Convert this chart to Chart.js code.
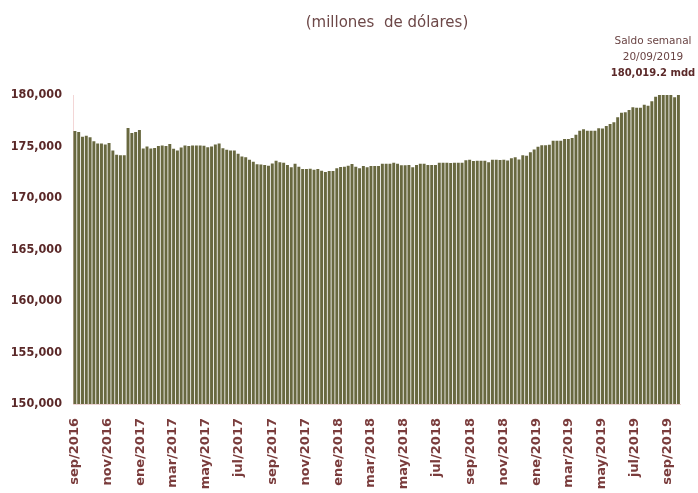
<!DOCTYPE html>
<html>
<head>
<meta charset="utf-8">
<script src="https://cdn.jsdelivr.net/npm/chart.js@4/dist/chart.umd.min.js"></script>
<style>
html,body{margin:0;padding:0;background:#fff;}
#wrap{position:relative;width:698px;height:493px;overflow:hidden;}
canvas{position:absolute;left:0;top:0;}
.t{position:absolute;font-family:"DejaVu Sans",sans-serif;white-space:nowrap;text-align:center;}
</style>
</head>
<body>
<div id="wrap">
<canvas id="c" width="698" height="493"></canvas>
<div class="t" id="title" style="left:287px;width:200px;top:12px;font-size:15px;line-height:20px;color:#6d4848;">(millones&nbsp; de dólares)</div>
<div class="t" id="note" style="left:603px;width:100px;top:32px;font-size:10.5px;line-height:16px;color:#6a4444;">Saldo semanal<br>20/09/2019<br><b style="color:#5c2a2a;font-size:10px;">180,019.2 mdd</b></div>
</div>
<script>
// Weekly balance of international reserves (millones de dólares), 02/09/2016 .. 20/09/2019
const firstWeek = '2016-09-02';
const reserves = [
 176500,176400,175950,176050,175900,175500,175300,175300,175200,175350,
 174600,174200,174150,174150,176800,176300,176400,176600,174800,175000,
 174800,174850,175050,175100,175050,175250,174780,174600,174900,175100,
 175050,175100,175100,175100,175080,174920,175000,175200,175300,174830,
 174680,174600,174600,174300,174020,173960,173720,173510,173270,173250,
 173200,173140,173350,173620,173460,173430,173200,172980,173330,173040,
 172810,172810,172850,172750,172810,172650,172520,172620,172620,172880,
 173010,173040,173140,173300,173040,172880,173110,172980,173110,173110,
 173110,173330,173330,173330,173430,173330,173170,173170,173200,172980,
 173200,173330,173330,173200,173200,173200,173430,173430,173430,173400,
 173430,173430,173430,173670,173720,173600,173620,173620,173620,173460,
 173720,173720,173690,173720,173650,173860,173950,173750,174160,174110,
 174430,174720,174970,175110,175110,175170,175550,175550,175550,175740,
 175740,175820,176150,176540,176670,176540,176540,176540,176770,176750,
 176990,177190,177350,177850,178280,178320,178540,178820,178770,178770,
 179060,178950,179400,179840,179990,179990,179990,179990,179780,180019.2
];
// month-start positions (days since 01/09/2016) and their labels
const tickDays = [0,61,122,181,242,303,365,426,487,546,607,668,730,791,852,911,972,1033,1095];
const tickLabels = ['sep/2016','nov/2016','ene/2017','mar/2017','may/2017','jul/2017','sep/2017','nov/2017',
 'ene/2018','mar/2018','may/2018','jul/2018','sep/2018','nov/2018','ene/2019','mar/2019','may/2019','jul/2019','sep/2019'];
const yTicks = [150000,155000,160000,165000,170000,175000,180000];

// week dates -> day offset from 01/09/2016
const origin = Date.UTC(2016, 8, 1);
const startMs = Date.parse(firstWeek + 'T00:00:00Z');
const weekDates = reserves.map((_, i) => new Date(startMs + i * 7 * 86400000));
const points = reserves.map((v, i) => ({ x: Math.round((weekDates[i] - origin) / 86400000), y: v }));

new Chart(document.getElementById('c'), {
  type: 'bar',
  data: {
    datasets: [{
      label: 'Saldo semanal',
      data: points,
      backgroundColor: '#68683f',
      borderWidth: 0,
      categoryPercentage: 1,
      barPercentage: 0.78
    }]
  },
  options: {
    responsive: false,
    animation: false,
    layout: { padding: { top: 95, right: 14, bottom: 0, left: 0 } },
    plugins: { legend: { display: false }, tooltip: { enabled: false } },
    scales: {
      x: {
        type: 'linear',
        min: -2.5,
        max: 1117.5,
        offset: false,
        grid: { display: false, drawTicks: false, offset: false },
        border: { display: true, color: '#edd3d3', width: 1 },
        afterBuildTicks: s => { s.ticks = tickDays.map(v => ({ value: v })); },
        afterFit: s => { s.height = 89; },
        ticks: {
          autoSkip: false, minRotation: 90, maxRotation: 90, padding: 14,
          color: '#7a3c3c',
          font: { family: 'DejaVu Sans', size: 13, weight: 'bold' },
          callback: (v, i) => tickLabels[i]
        }
      },
      y: {
        min: 150000,
        max: 180000,
        grid: { display: false, drawTicks: false },
        border: { display: true, color: '#f3d6d6', width: 1 },
        afterBuildTicks: s => { s.ticks = yTicks.map(v => ({ value: v })); },
        afterFit: s => { s.width = 73; },
        ticks: {
          padding: 11,
          color: '#5a2828',
          font: { family: '"DejaVu Sans Condensed", "DejaVu Sans"', size: 12.5, weight: 'bold' },
          callback: v => v.toLocaleString('en-US')
        }
      }
    }
  }
});
</script>
</body>
</html>
